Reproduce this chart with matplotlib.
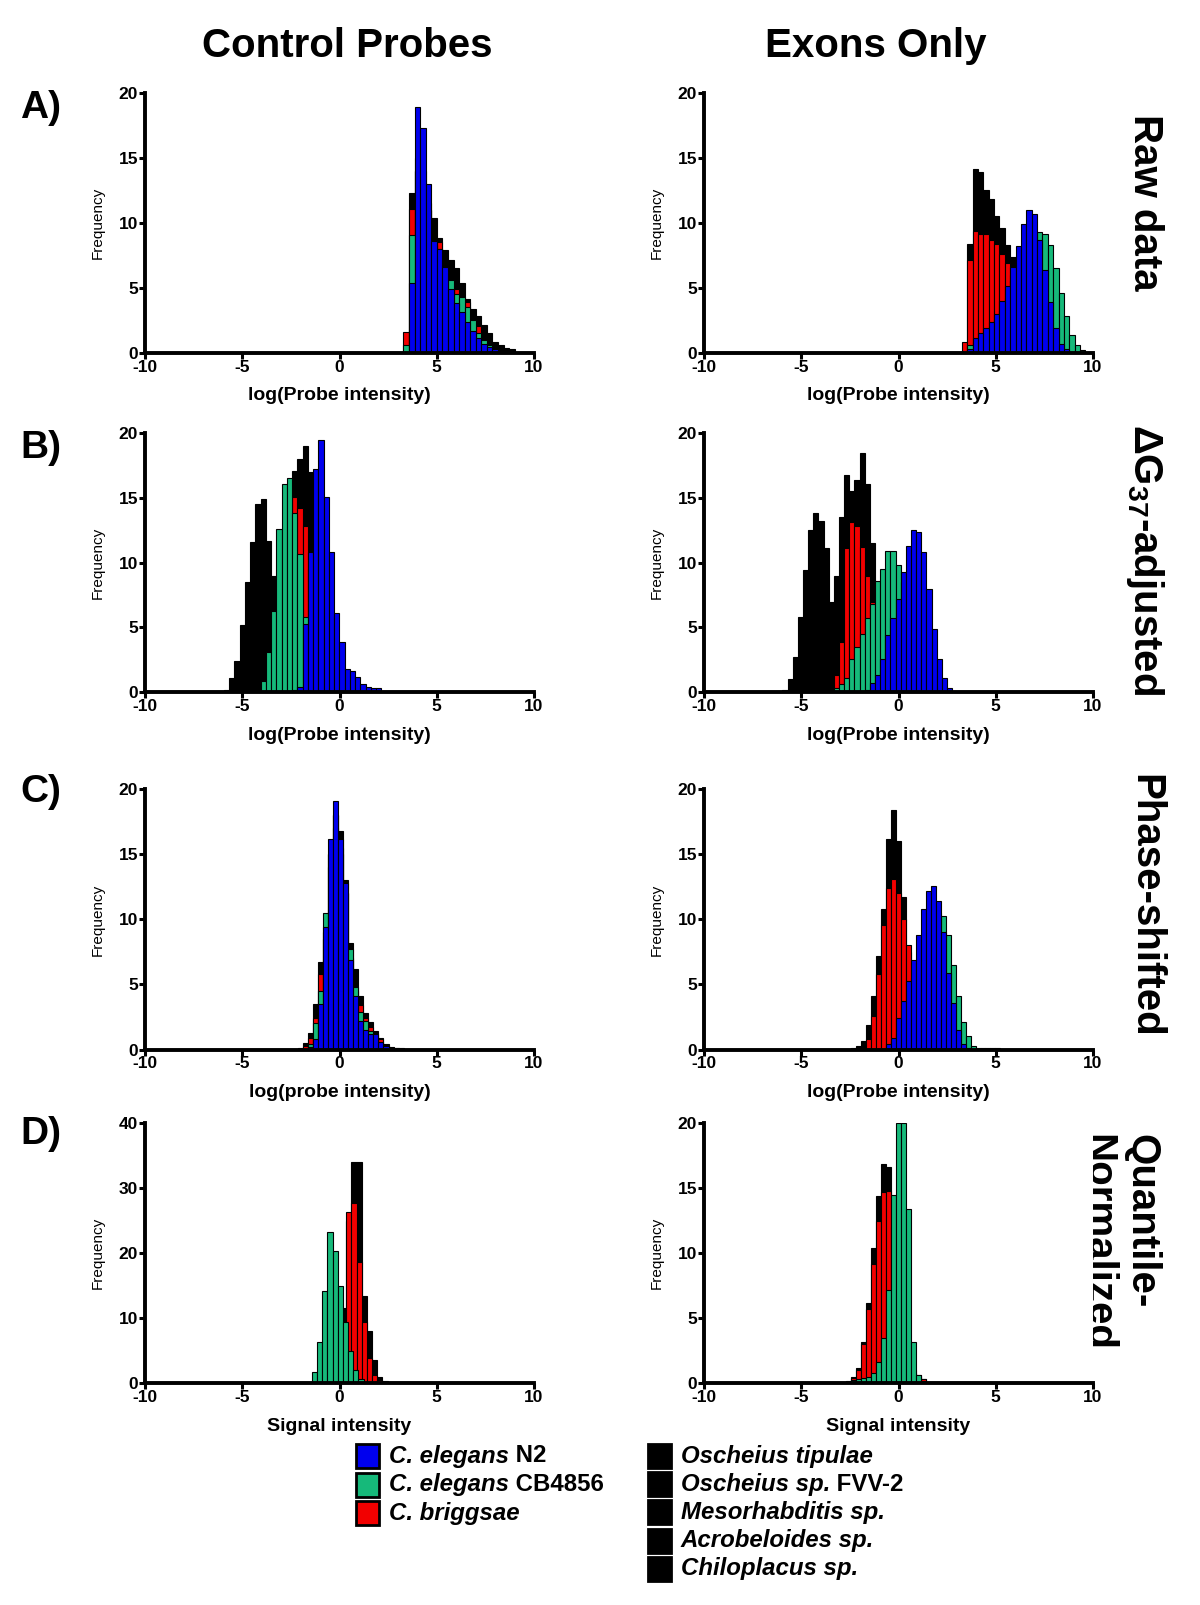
import numpy as np
import matplotlib
matplotlib.use("Agg")
import matplotlib.pyplot as plt
from matplotlib.patches import Rectangle

plt.rcParams["font.family"] = ["Liberation Sans", "DejaVu Sans"]
plt.rcParams["axes.unicode_minus"] = False
plt.rcParams["mathtext.fontset"] = "custom"
plt.rcParams["mathtext.rm"] = "Liberation Sans:bold"
plt.rcParams["mathtext.it"] = "Liberation Sans:bold:italic"
plt.rcParams["mathtext.bf"] = "Liberation Sans:bold"

# ── DATA (histogram counts) ───────────────────────────────────────────
# each panel: bin width, first bin edge per series [others, briggsae, CB4856, N2]
# "others" = black envelope of the five non-Caenorhabditis species

# A) raw data, control probes
raw_ctrl_width = 0.286
raw_ctrl_x0 = [3.29, 3.29, 3.29, 3.29]
raw_ctrl_others = [0, 12.3, 15, 14, 11.5, 10.4, 8.8, 7.9, 7.1, 6.5, 5.4, 4.1, 3.4, 2.8, 2.1, 1.5, 0.85, 0.6, 0.4, 0.3]
raw_ctrl_cbr = [1.6, 11.05, 14, 13, 11, 8.5, 8.5, 6.5, 5.4, 4.9, 4.0, 3.9, 2.4, 2.05, 1.0, 0.6, 0.3, 0.1]
raw_ctrl_cb4856 = [0.6, 9.05, 14, 13, 11, 8.3, 8.0, 6.4, 5.6, 4.5, 4.3, 3.5, 2.5, 1.5, 1.0, 0.6, 0.3, 0.1]
raw_ctrl_n2 = [0, 5.4, 18.9, 17.3, 13.0, 8.6, 8.0, 6.6, 4.9, 3.8, 3.1, 2.4, 1.7, 1.1, 0.7, 0.46, 0.3, 0.1]

# A) raw data, exons only
raw_exon_width = 0.276
raw_exon_x0 = [3.26, 3.26, 3.26, 3.26]
raw_exon_others = [0, 8.4, 14.1, 13.9, 12.5, 11.8, 10.5, 9.6, 8.3, 7.4, 6.0, 5.0, 4.0, 3.0, 2.2, 1.5, 1.0, 0.5, 0.3]
raw_exon_cbr = [0.85, 7.1, 9.4, 9.1, 9.1, 8.7, 8.4, 7.6, 6.9, 6.0, 5.0, 4.0, 3.0, 2.0, 1.2, 0.6, 0.3]
raw_exon_cb4856 = [0, 0.6, 0.8, 1.1, 1.5, 2.0, 2.5, 3.2, 4.2, 5.5, 6.5, 7.5, 8.5, 9.0, 9.3, 9.1, 8.3, 6.5, 4.6, 2.8, 1.4, 0.6, 0.2]
raw_exon_n2 = [0, 0.3, 1.1, 1.5, 1.9, 2.4, 3.0, 4.0, 5.1, 6.6, 8.2, 9.9, 11.0, 10.7, 8.7, 6.4, 3.9, 1.9, 0.7, 0.3]

# B) dG37-adjusted, control probes
dg_ctrl_width = 0.27
dg_ctrl_x0 = [-5.95, -3.79, -4.06, -2.44]
dg_ctrl_others = [0.2, 1.1, 2.4, 5.2, 8.5, 11.6, 14.5, 14.9, 11.7, 9.0, 6.4, 5.0, 9.0, 17.1, 18.0, 19.0, 17.0, 12.0, 7.0, 4.0, 2.0, 1.0, 0.5]
dg_ctrl_cbr = [0.5, 1.5, 4.0, 8.0, 12.0, 15.1, 14.2, 12.8, 9.5, 6.0, 3.0, 1.5, 0.6]
dg_ctrl_cb4856 = [0.9, 3.1, 6.3, 12.6, 16.1, 16.5, 13.8, 10.7, 5.8, 3.5, 2.0, 1.0, 0.5]
dg_ctrl_n2 = [0.2, 0.4, 5.3, 10.8, 17.2, 19.5, 15.1, 10.8, 6.1, 3.9, 1.8, 1.6, 1.2, 0.6, 0.4, 0.35, 0.3]

# B) dG37-adjusted, exons only
dg_exon_width = 0.2645
dg_exon_x0 = [-5.97, -3.59, -3.325, -1.738]
dg_exon_others = [0.2, 1.0, 2.7, 5.8, 9.4, 12.5, 13.8, 13.2, 11.1, 7.0, 9.0, 13.5, 16.8, 15.5, 16.4, 18.5, 16.1, 11.5, 8.0, 5.0, 3.0, 1.5, 0.6]
dg_exon_cbr = [0.2, 1.3, 3.9, 11.1, 13.1, 12.8, 11.2, 9.0, 7.0, 5.0, 3.0, 1.5, 0.6]
dg_exon_cb4856 = [0.3, 0.6, 1.1, 2.6, 3.5, 4.5, 5.7, 6.8, 8.6, 9.5, 10.9, 10.9, 9.8, 8.5, 6.5, 4.5, 3.0, 1.8, 1.0, 0.5, 0.2]
dg_exon_n2 = [0.2, 0.7, 1.3, 2.6, 4.4, 5.7, 7.2, 9.3, 11.3, 12.5, 12.4, 10.8, 8.0, 4.9, 2.6, 1.1, 0.3]

# C) phase-shifted, control probes
ps_ctrl_width = 0.26
ps_ctrl_x0 = [-2.158, -1.898, -1.638, -1.638]
ps_ctrl_others = [0.13, 0.5, 1.3, 3.5, 6.7, 9.0, 15.0, 18.0, 16.8, 13.0, 8.2, 6.2, 4.1, 2.8, 2.1, 1.4, 0.9, 0.4, 0.2, 0.13, 0.1]
ps_ctrl_cbr = [0.26, 0.9, 2.4, 5.8, 8.5, 14.0, 17.0, 15.0, 12.0, 7.0, 4.5, 3.4, 2.4, 1.7, 1.2, 0.8, 0.3]
ps_ctrl_cb4856 = [0.4, 2.0, 4.5, 10.5, 15.0, 18.0, 15.5, 12.0, 7.7, 4.8, 2.9, 2.2, 1.4, 1.0, 0.5, 0.2]
ps_ctrl_n2 = [0.2, 0.8, 3.5, 9.4, 16.2, 19.1, 16.2, 12.8, 6.9, 4.1, 2.2, 1.5, 1.2, 1.2, 0.56, 0.3, 0.15, 0.1]

# C) phase-shifted, exons only
ps_exon_width = 0.256
ps_exon_x0 = [-2.696, -1.928, -0.648, -0.648]
ps_exon_others = [0.05, 0.13, 0.3, 0.64, 1.9, 4.1, 7.2, 10.8, 16.2, 18.4, 16.0, 11.7, 7.5, 4.5, 2.5, 1.2, 0.6, 0.3,
                  0.2, 0.15, 0.1, 0.1, 0.1, 0.1, 0.1, 0.1, 0.1, 0.1, 0.1, 0.1, 0.1]
ps_exon_cbr = [0.1, 0.77, 2.6, 5.8, 9.6, 12.4, 13.1, 12.0, 10.0, 8.0, 5.5, 3.5, 2.0, 1.0, 0.5, 0.2]
ps_exon_cb4856 = [0.3, 0.6, 1.2, 2.0, 3.2, 4.5, 6.0, 7.5, 9.0, 10.0, 10.5, 10.3, 8.8, 6.5, 4.1, 2.1, 1.0, 0.26]
ps_exon_n2 = [0.4, 0.9, 2.4, 3.7, 5.3, 6.9, 8.8, 10.8, 12.2, 12.6, 11.4, 9.0, 5.9, 3.6, 1.5, 0.4, 0.1]

# D) quantile-normalized, control probes
qn_ctrl_width = 0.266
qn_ctrl_x0 = [-0.455, -0.455, -1.684, 0.0]
qn_ctrl_others = [1.0, 5.0, 11.6, 25.0, 34.0, 34.0, 13.4, 8.1, 3.6, 1.0, 0.36]
qn_ctrl_cbr = [1.5, 4.0, 8.0, 26.3, 27.8, 18.6, 9.4, 3.9, 1.3, 0.5]
qn_ctrl_cb4856 = [0.26, 1.8, 6.3, 14.2, 23.2, 20.3, 14.9, 9.5, 5.0, 2.1, 0.6]
qn_ctrl_n2 = []

# D) quantile-normalized, exons only
qn_exon_width = 0.256
qn_exon_x0 = [-2.935, -2.423, -2.679, 0.0]
qn_exon_others = [0.1, 0.2, 0.5, 1.2, 3.2, 6.2, 10.4, 14.4, 16.9, 16.6, 13.0, 8.0, 4.0, 2.0, 1.0, 0.6, 0.3]
qn_exon_cbr = [0.4, 1.0, 3.0, 5.7, 9.2, 12.5, 14.7, 14.8, 12.0, 6.0, 3.0, 1.5, 0.8, 0.5, 0.34]
qn_exon_cb4856 = [0.1, 0.26, 0.3, 0.4, 0.5, 0.8, 1.6, 3.5, 7.2, 14.5, 20.0, 20.0, 13.4, 3.2, 0.65, 0.2]
qn_exon_n2 = []

# legend entries: (italic part, upright part)
legend_caeno = [("C. elegans", " N2"), ("C. elegans", " CB4856"), ("C. briggsae", "")]
legend_others = [("Oscheius tipulae", ""), ("Oscheius sp.", " FVV-2"), ("Mesorhabditis sp.", ""),
                 ("Acrobeloides sp.", ""), ("Chiloplacus sp.", "")]

# ── STYLE ─────────────────────────────────────────────────────────────
BLACK, RED, GREEN, BLUE = "#000000", "#f20000", "#16b97a", "#0000ee"
COLORS = [BLACK, RED, GREEN, BLUE]

W, H = 1200, 1605
COL_X = [(145, 534), (704, 1093)]
ROW_Y = [(92.7, 352.7), (433.1, 692.2), (789.4, 1049.5), (1123.2, 1383.3)]

fig = plt.figure(figsize=(W / 100, H / 100), dpi=100)


def make_axes(row, col):
    x0, x1 = COL_X[col]
    y0, y1 = ROW_Y[row]
    return fig.add_axes([x0 / W, 1 - y1 / H, (x1 - x0) / W, (y1 - y0) / H])


def draw_panel(ax, width, x0s, series, xlabel, ymax, ystep):
    for start, heights, color in zip(x0s, series, COLORS):
        if len(heights) == 0:
            continue
        heights = np.asarray(heights, dtype=float)
        lefts = start + width * np.arange(len(heights))
        ax.bar(lefts, heights, width=width, align="edge", color=color,
               edgecolor="black", linewidth=0.8)
    ax.set_xlim(-10, 10)
    ax.set_ylim(0, ymax)
    ax.spines[["top", "right"]].set_visible(False)
    ax.spines[["left", "bottom"]].set_linewidth(2.8)
    ax.set_xticks([-10, -5, 0, 5, 10])
    ax.set_yticks(np.arange(0, ymax + 1, ystep))
    ax.tick_params(direction="out", length=4, width=2.2, labelsize=12.5, pad=1)
    for lab in ax.get_xticklabels() + ax.get_yticklabels():
        lab.set_fontweight("bold")
    ax.set_xlabel(xlabel, fontsize=14, fontweight="bold", labelpad=9)
    ax.set_ylabel("Frequency", fontsize=11, labelpad=10)


panels = [
    (0, 0, raw_ctrl_width, raw_ctrl_x0, [raw_ctrl_others, raw_ctrl_cbr, raw_ctrl_cb4856, raw_ctrl_n2], "log(Probe intensity)", 20, 5),
    (0, 1, raw_exon_width, raw_exon_x0, [raw_exon_others, raw_exon_cbr, raw_exon_cb4856, raw_exon_n2], "log(Probe intensity)", 20, 5),
    (1, 0, dg_ctrl_width, dg_ctrl_x0, [dg_ctrl_others, dg_ctrl_cbr, dg_ctrl_cb4856, dg_ctrl_n2], "log(Probe intensity)", 20, 5),
    (1, 1, dg_exon_width, dg_exon_x0, [dg_exon_others, dg_exon_cbr, dg_exon_cb4856, dg_exon_n2], "log(Probe intensity)", 20, 5),
    (2, 0, ps_ctrl_width, ps_ctrl_x0, [ps_ctrl_others, ps_ctrl_cbr, ps_ctrl_cb4856, ps_ctrl_n2], "log(probe intensity)", 20, 5),
    (2, 1, ps_exon_width, ps_exon_x0, [ps_exon_others, ps_exon_cbr, ps_exon_cb4856, ps_exon_n2], "log(Probe intensity)", 20, 5),
    (3, 0, qn_ctrl_width, qn_ctrl_x0, [qn_ctrl_others, qn_ctrl_cbr, qn_ctrl_cb4856, qn_ctrl_n2], "Signal intensity", 40, 10),
    (3, 1, qn_exon_width, qn_exon_x0, [qn_exon_others, qn_exon_cbr, qn_exon_cb4856, qn_exon_n2], "Signal intensity", 20, 5),
]

for row, col, width, x0s, series, xlabel, ymax, ystep in panels:
    draw_panel(make_axes(row, col), width, x0s, series, xlabel, ymax, ystep)

# overlay in pixel coordinates for headers, row labels and legend
ov = fig.add_axes([0, 0, 1, 1], zorder=-1)
ov.set_xlim(0, W)
ov.set_ylim(H, 0)
ov.axis("off")

ov.text(347, 46, "Control Probes", fontsize=29, fontweight="bold", ha="center", va="center")
ov.text(876, 46, "Exons Only", fontsize=29, fontweight="bold", ha="center", va="center")

for lab, y in zip(["A)", "B)", "C)", "D)"], [107.5, 448.5, 791.5, 1133.5]):
    ov.text(41, y, lab, fontsize=28, fontweight="bold", ha="center", va="center")

row_titles = [("Raw data", 1145, 202), ("ΔG$_{37}$-adjusted", 1145, 560),
              ("Phase-shifted", 1145, 906), ("Quantile-\nNormalized", 1119, 1242)]
for txt, x, y in row_titles:
    ov.text(x, y, txt, fontsize=29, fontweight="bold", rotation=-90,
            ha="center", va="center", multialignment="left", linespacing=1.2)

# legend
renderer = fig.canvas.get_renderer()
inv = ov.transData.inverted()


def legend_entry(x, y, color, italic, upright):
    ov.add_patch(Rectangle((x, y - 12), 23, 24, facecolor=color, edgecolor="black", lw=2))
    t = ov.text(x + 33, y, italic, fontsize=17.3, fontweight="bold", fontstyle="italic",
                ha="left", va="center")
    if upright:
        bb = t.get_window_extent(renderer)
        x_end = inv.transform((bb.x1, bb.y0))[0]
        ov.text(x_end, y, upright, fontsize=17.3, fontweight="bold", ha="left", va="center")


for i, ((it, up), col) in enumerate(zip(legend_caeno, [BLUE, GREEN, RED])):
    legend_entry(356, 1456 + 28.7 * i, col, it, up)
for i, (it, up) in enumerate(legend_others):
    legend_entry(648, 1456 + 28.2 * i, BLACK, it, up)

fig.savefig("out.png", dpi=100)
